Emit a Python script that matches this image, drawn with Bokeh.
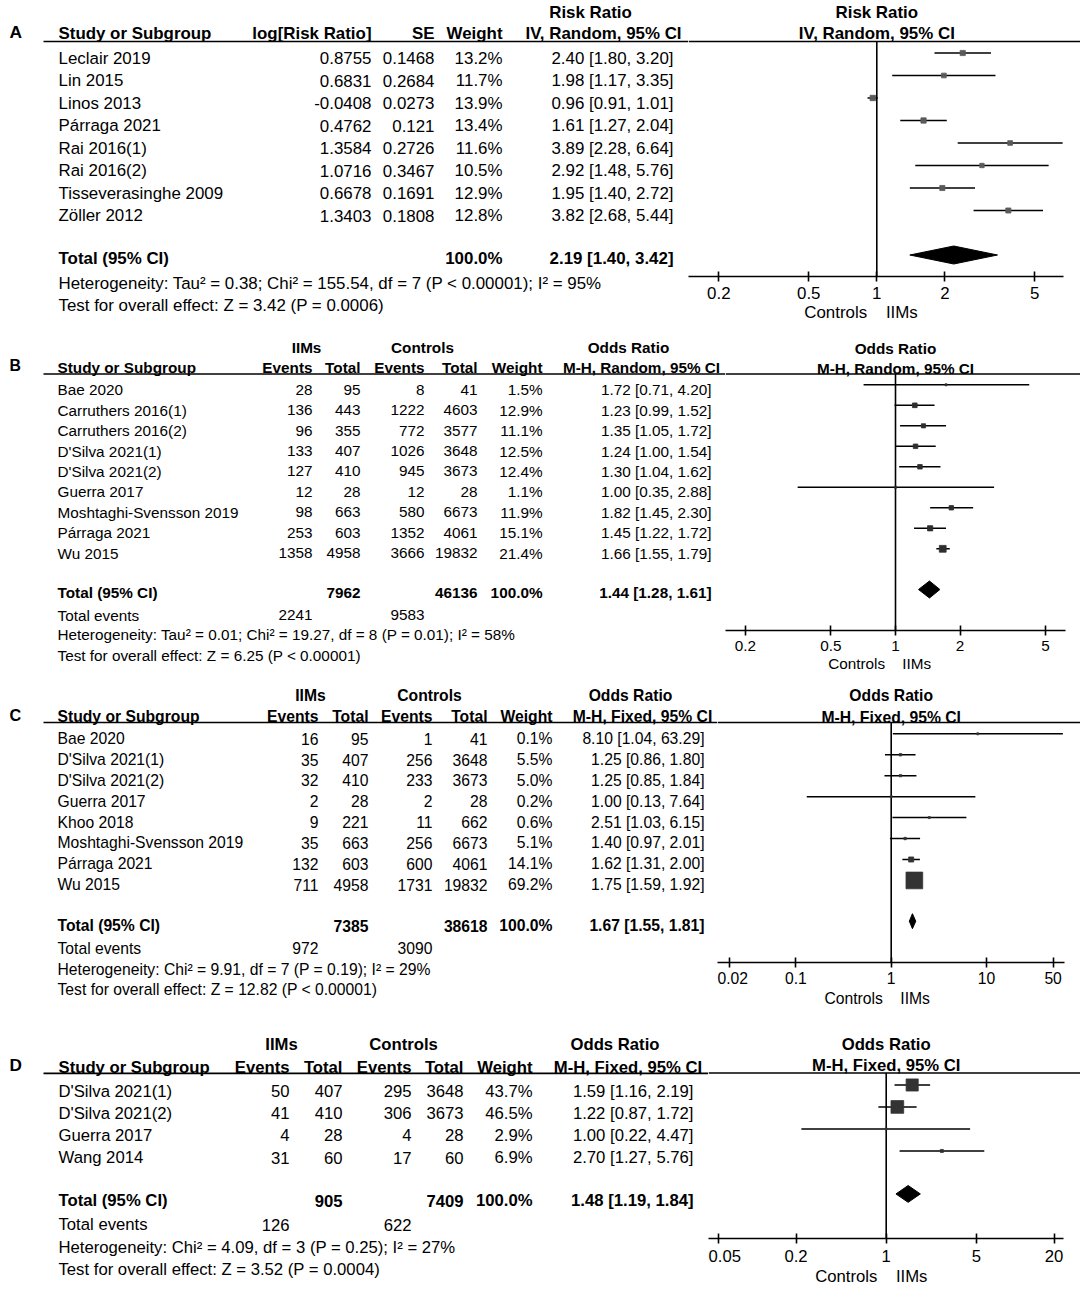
from bokeh.plotting import figure
from bokeh.layouts import row, column
from bokeh.models import Range1d, FixedTicker, Span
from bokeh.core.properties import value
from bokeh.embed import file_html
from bokeh.resources import INLINE

FONT_NAME = "Liberation Sans"
FONT = value(FONT_NAME)
PAGE_LEFT = 0
PAGE_RIGHT = 1080
NBSP = "\u00a0"

# ---------------- Panel A : Risk ratio (IV, Random) ----------------
a_studies = ["Leclair 2019", "Lin 2015", "Linos 2013", "Párraga 2021", "Rai 2016(1)",
             "Rai 2016(2)", "Tisseverasinghe 2009", "Zöller 2012"]
a_logrr = [0.8755, 0.6831, -0.0408, 0.4762, 1.3584, 1.0716, 0.6678, 1.3403]
a_se = [0.1468, 0.2684, 0.0273, 0.121, 0.2726, 0.3467, 0.1691, 0.1808]
a_weight = [13.2, 11.7, 13.9, 13.4, 11.6, 10.5, 12.9, 12.8]
a_est = [2.40, 1.98, 0.96, 1.61, 3.89, 2.92, 1.95, 3.82]
a_lo = [1.80, 1.17, 0.91, 1.27, 2.28, 1.48, 1.40, 2.68]
a_hi = [3.20, 3.35, 1.01, 2.04, 6.64, 5.76, 2.72, 5.44]
a_total = [2.19, 1.40, 3.42]
a_het = "Heterogeneity: Tau² = 0.38; Chi² = 155.54, df = 7 (P < 0.00001); I² = 95%"
a_test = "Test for overall effect: Z = 3.42 (P = 0.0006)"
a_ticks = [0.2, 0.5, 1, 2, 5]
a_tick_labels = ["0.2", "0.5", "1", "2", "5"]

# ---------------- Panel B : Odds ratio (M-H, Random) ----------------
b_studies = ["Bae 2020", "Carruthers 2016(1)", "Carruthers 2016(2)", "D'Silva 2021(1)",
             "D'Silva 2021(2)", "Guerra 2017", "Moshtaghi-Svensson 2019", "Párraga 2021", "Wu 2015"]
b_iims_events = [28, 136, 96, 133, 127, 12, 98, 253, 1358]
b_iims_total = [95, 443, 355, 407, 410, 28, 663, 603, 4958]
b_ctrl_events = [8, 1222, 772, 1026, 945, 12, 580, 1352, 3666]
b_ctrl_total = [41, 4603, 3577, 3648, 3673, 28, 6673, 4061, 19832]
b_weight = [1.5, 12.9, 11.1, 12.5, 12.4, 1.1, 11.9, 15.1, 21.4]
b_est = [1.72, 1.23, 1.35, 1.24, 1.30, 1.00, 1.82, 1.45, 1.66]
b_lo = [0.71, 0.99, 1.05, 1.00, 1.04, 0.35, 1.45, 1.22, 1.55]
b_hi = [4.20, 1.52, 1.72, 1.54, 1.62, 2.88, 2.30, 1.72, 1.79]
b_sums = [7962, 46136]
b_events = [2241, 9583]
b_total = [1.44, 1.28, 1.61]
b_het = "Heterogeneity: Tau² = 0.01; Chi² = 19.27, df = 8 (P = 0.01); I² = 58%"
b_test = "Test for overall effect: Z = 6.25 (P < 0.00001)"
b_ticks = [0.2, 0.5, 1, 2, 5]
b_tick_labels = ["0.2", "0.5", "1", "2", "5"]

# ---------------- Panel C : Odds ratio (M-H, Fixed) ----------------
c_studies = ["Bae 2020", "D'Silva 2021(1)", "D'Silva 2021(2)", "Guerra 2017", "Khoo 2018",
             "Moshtaghi-Svensson 2019", "Párraga 2021", "Wu 2015"]
c_iims_events = [16, 35, 32, 2, 9, 35, 132, 711]
c_iims_total = [95, 407, 410, 28, 221, 663, 603, 4958]
c_ctrl_events = [1, 256, 233, 2, 11, 256, 600, 1731]
c_ctrl_total = [41, 3648, 3673, 28, 662, 6673, 4061, 19832]
c_weight = [0.1, 5.5, 5.0, 0.2, 0.6, 5.1, 14.1, 69.2]
c_est = [8.10, 1.25, 1.25, 1.00, 2.51, 1.40, 1.62, 1.75]
c_lo = [1.04, 0.86, 0.85, 0.13, 1.03, 0.97, 1.31, 1.59]
c_hi = [63.29, 1.80, 1.84, 7.64, 6.15, 2.01, 2.00, 1.92]
c_sums = [7385, 38618]
c_events = [972, 3090]
c_total = [1.67, 1.55, 1.81]
c_het = "Heterogeneity: Chi² = 9.91, df = 7 (P = 0.19); I² = 29%"
c_test = "Test for overall effect: Z = 12.82 (P < 0.00001)"
c_ticks = [0.02, 0.1, 1, 10, 50]
c_tick_labels = ["0.02", "0.1", "1", "10", "50"]

# ---------------- Panel D : Odds ratio (M-H, Fixed) ----------------
d_studies = ["D'Silva 2021(1)", "D'Silva 2021(2)", "Guerra 2017", "Wang 2014"]
d_iims_events = [50, 41, 4, 31]
d_iims_total = [407, 410, 28, 60]
d_ctrl_events = [295, 306, 4, 17]
d_ctrl_total = [3648, 3673, 28, 60]
d_weight = [43.7, 46.5, 2.9, 6.9]
d_est = [1.59, 1.22, 1.00, 2.70]
d_lo = [1.16, 0.87, 0.22, 1.27]
d_hi = [2.19, 1.72, 4.47, 5.76]
d_sums = [905, 7409]
d_events = [126, 622]
d_total = [1.48, 1.19, 1.84]
d_het = "Heterogeneity: Chi² = 4.09, df = 3 (P = 0.25); I² = 27%"
d_test = "Test for overall effect: Z = 3.52 (P = 0.0004)"
d_ticks = [0.05, 0.2, 1, 5, 20]
d_tick_labels = ["0.05", "0.2", "1", "5", "20"]


def fmt_ci(t):
    e, l, h = t
    return f"{e:.2f} [{l:.2f}, {h:.2f}]"


def fmt_w(w):
    return f"{w:.1f}%"


def put(p, xs, ys, texts, fs, align="left", bold=False):
    p.text(x=list(xs), y=list(ys), text=[str(t) for t in texts], text_align=align,
           text_baseline="middle", text_font=FONT, text_font_size=f"{fs}px",
           text_font_style="bold" if bold else "normal", text_color="black")


def table_fig(W, y_top, y_bot):
    p = figure(width=W, height=y_bot - y_top, x_range=Range1d(PAGE_LEFT, PAGE_LEFT + W),
               y_range=Range1d(y_bot, y_top), x_axis_location=None, y_axis_location=None,
               toolbar_location=None, output_backend="svg", min_border=0, frame_align=False)
    p.grid.grid_line_color = None
    p.outline_line_color = None
    p.background_fill_color = "white"
    return p


def build_table(L, studies, cols, ci_strings, total_ci, het, test, events=None):
    W = L["f_left"] - PAGE_LEFT
    p = table_fig(W, L["y_top"], L["y_bot"])
    fs = L["fs"]
    n = len(studies)
    ys = [L["row0"] + L["drow"] * i for i in range(n)]
    # panel letter
    put(p, [9], [L["hdr2"] - 2], [L["letter"]], fs + 0.5, bold=True)
    # group headers
    for lab, cx in L.get("groups", []):
        put(p, [cx], [L["hdr1"]], [lab], fs, align="center", bold=True)
    put(p, [L["ci_h1_x"]], [L["hdr1"]], [L["ci_h1"]], fs, align="center", bold=True)
    put(p, [L["ci_h2_x"]], [L["hdr2"]], [L["ci_h2"]], fs, align="center", bold=True)
    put(p, [L["study_x"]], [L["hdr2"]], ["Study or Subgroup"], fs, bold=True)
    p.segment(x0=[L["line_x0"]], x1=[PAGE_LEFT + W], y0=[L["line_y"]], y1=[L["line_y"]],
              line_color="black", line_width=1.6)
    # rows
    put(p, [L["study_x"]] * n, ys, studies, fs)
    for (hdr, xr, vals, tot) in cols:
        put(p, [xr], [L["hdr2"]], [hdr], fs, align="right", bold=True)
        put(p, [xr] * n, ys, vals, fs, align="right")
        if tot is not None:
            put(p, [xr], [L["total_y"]], [tot], fs, align="right", bold=True)
    put(p, [L["ci_x"]] * n, ys, ci_strings, fs, align="right")
    put(p, [L["study_x"]], [L["total_y"]], ["Total (95% CI)"], fs, bold=True)
    put(p, [L["ci_x"]], [L["total_y"]], [fmt_ci(total_ci)], fs, align="right", bold=True)
    if events is not None:
        put(p, [L["study_x"]], [L["events_y"]], ["Total events"], fs)
        put(p, [L["ev_x"][0], L["ev_x"][1]], [L["events_y"]] * 2, events, fs, align="right")
    put(p, [L["study_x"]], [L["het_y"]], [het], fs)
    put(p, [L["study_x"]], [L["test_y"]], [test], fs)
    return p


def build_forest(L, est, lo, hi, weight, total, ticks, tick_labels):
    left = L["f_left"]
    W = PAGE_RIGHT - left
    one, ppd = L["one_px"], L["ppd"]

    def to_val(px):
        return 10 ** ((px - one) / ppd)

    x_start, x_end = to_val(left), to_val(PAGE_RIGHT)
    y_top, y_axis, y_bot = L["y_top"], L["axis_y"], L["y_bot"]
    p = figure(width=W, height=y_bot - y_top, x_axis_type="log",
               x_range=Range1d(x_start, x_end), y_range=Range1d(y_axis, y_top),
               y_axis_location=None, x_axis_location="below", toolbar_location=None,
               output_backend="svg", min_border=0, min_border_bottom=y_bot - y_axis,
               frame_align=False)
    p.grid.grid_line_color = None
    p.outline_line_color = None
    fs = L["fs"]

    ax = p.xaxis[0]
    ax.ticker = FixedTicker(ticks=ticks)
    ax.major_label_overrides = dict(zip(ticks, tick_labels))
    ax.bounds = (x_start, to_val(L["axis_end"]))
    ax.axis_line_color = "black"
    ax.axis_line_width = 1.6
    ax.major_tick_line_color = "black"
    ax.major_tick_line_width = 1.6
    ax.major_tick_in = 5
    ax.major_tick_out = 5
    ax.minor_tick_line_color = None
    ax.major_label_text_font = FONT_NAME
    ax.major_label_text_font_size = f"{fs}px"
    ax.major_label_text_color = "black"
    ax.major_label_standoff = L["lab_standoff"]
    # "Controls" sits left of the null line, "IIMs" right of it
    ax.axis_label = "Controls" + NBSP * 4 + "IIMs" + NBSP * L["lab_pad"]
    ax.axis_label_text_font = FONT_NAME
    ax.axis_label_text_font_size = f"{fs}px"
    ax.axis_label_text_font_style = "normal"
    ax.axis_label_text_color = "black"
    ax.axis_label_standoff = L["axlab_standoff"]

    # header line and the line of no effect
    p.add_layout(Span(location=L["line_y"], dimension="width", line_color="black", line_width=1.6))
    p.segment(x0=[1], x1=[1], y0=[L["line_y"]], y1=[y_axis], line_color="black", line_width=1.6)
    put(p, [1], [L["f_hdr1"]], [L["ci_h1"]], fs, align="center", bold=True)
    put(p, [1], [L["f_hdr2"]], [L["ci_h2"]], fs, align="center", bold=True)

    n = len(est)
    ys = [L["mrow0"] + L["mdrow"] * i for i in range(n)]
    p.segment(x0=lo, x1=hi, y0=ys, y1=ys, line_color="black", line_width=1.5)
    wmax = max(weight)
    sizes = [max(2.0, L["smax"] * (w / wmax) ** 0.75) for w in weight]
    p.scatter(x=est, y=ys, marker="square", size=sizes, fill_color=L["sq_color"],
              line_color=L["sq_color"], line_width=0.8)
    e, l, h = total
    yd, hd = L["diamond_y"], L["diamond_h"]
    p.patches(xs=[[l, e, h, e]], ys=[[yd, yd - hd, yd, yd + hd]], fill_color="black",
              line_color="black", line_width=1)
    return p


# ---------------- layouts (positions in page pixels) ----------------
LA = dict(letter="A", y_top=0, y_bot=335, fs=16.9, study_x=58, line_x0=43,
          hdr1=11.7, hdr2=33, line_y=41, row0=57.7, drow=22.48, total_y=258.4,
          het_y=282.8, test_y=304.7, ci_x=673, ci_h1="Risk Ratio", ci_h1_x=590,
          ci_h2="IV, Random, 95% CI", ci_h2_x=603,
          f_left=688, one_px=876.3, ppd=226, axis_y=276, axis_end=1063,
          f_hdr1=11.7, f_hdr2=33.3, mrow0=52.5, mdrow=22.5, diamond_y=254.5, diamond_h=9,
          smax=5.4, sq_color="#5a5a5a", lab_standoff=5, axlab_standoff=1, lab_pad=10)
LB = dict(letter="B", y_top=335, y_bot=685, fs=15.3, study_x=57, line_x0=43,
          hdr1=347.2, hdr2=367, line_y=373.5, row0=389.3, drow=20.41, total_y=592.2,
          events_y=614.5, het_y=634.3, test_y=655, ci_x=711, ci_h1="Odds Ratio", ci_h1_x=628,
          ci_h2="M-H, Random, 95% CI", ci_h2_x=641, groups=[("IIMs", 306), ("Controls", 422)],
          ev_x=[312, 424],
          f_left=725, one_px=895, ppd=214.6, axis_y=630, axis_end=1065,
          f_hdr1=347.7, f_hdr2=368, mrow0=384.3, mdrow=20.5, diamond_y=589, diamond_h=8.5,
          smax=6.8, sq_color="#2e2e2e", lab_standoff=5, axlab_standoff=1, lab_pad=11)
LC = dict(letter="C", y_top=685, y_bot=1030, fs=15.7, study_x=57, line_x0=43,
          hdr1=695.3, hdr2=716.2, line_y=722, row0=738.3, drow=20.83, total_y=925,
          events_y=947.6, het_y=969.2, test_y=989.3, ci_x=704, ci_h1="Odds Ratio", ci_h1_x=630,
          ci_h2="M-H, Fixed, 95% CI", ci_h2_x=642, groups=[("IIMs", 310), ("Controls", 429)],
          ev_x=[318, 432],
          f_left=717, one_px=890.7, ppd=95.3, axis_y=962, axis_end=1064,
          f_hdr1=695, f_hdr2=716.7, mrow0=733.3, mdrow=20.95, diamond_y=920.7, diamond_h=7.5,
          smax=16.7, sq_color="#333333", lab_standoff=4, axlab_standoff=3, lab_pad=10)
LD = dict(letter="D", y_top=1030, y_bot=1288, fs=16.7, study_x=58, line_x0=43,
          hdr1=1044.3, hdr2=1066.5, line_y=1072.9, row0=1090.5, drow=22.2, total_y=1200,
          events_y=1224, het_y=1247, test_y=1269.3, ci_x=693, ci_h1="Odds Ratio", ci_h1_x=614.5,
          ci_h2="M-H, Fixed, 95% CI", ci_h2_x=627.5, groups=[("IIMs", 281), ("Controls", 403)],
          ev_x=[289, 411],
          f_left=708, one_px=885.7, ppd=129, axis_y=1240, axis_end=1063,
          f_hdr1=1044, f_hdr2=1065, mrow0=1085, mdrow=22.2, diamond_y=1195, diamond_h=8.5,
          smax=12.7, sq_color="#333333", lab_standoff=6, axlab_standoff=2, lab_pad=10)

# ---------------- Panel A ----------------
tA = build_table(
    LA, a_studies,
    [("log[Risk Ratio]", 371, [str(v) for v in a_logrr], None),
     ("SE", 434, [str(v) for v in a_se], None),
     ("Weight", 502, [fmt_w(w) for w in a_weight], "100.0%")],
    [fmt_ci(t) for t in zip(a_est, a_lo, a_hi)], a_total, a_het, a_test)
fA = build_forest(LA, a_est, a_lo, a_hi, a_weight, a_total, a_ticks, a_tick_labels)


def or_cols(iev, itot, cev, ctot, w, sums, xs):
    return [("Events", xs[0], iev, None),
            ("Total", xs[1], itot, sums[0]),
            ("Events", xs[2], cev, None),
            ("Total", xs[3], ctot, sums[1]),
            ("Weight", xs[4], [fmt_w(v) for v in w], "100.0%")]


tB = build_table(LB, b_studies,
                 or_cols(b_iims_events, b_iims_total, b_ctrl_events, b_ctrl_total, b_weight,
                         b_sums, [312, 360, 424, 477, 542]),
                 [fmt_ci(t) for t in zip(b_est, b_lo, b_hi)], b_total, b_het, b_test, b_events)
fB = build_forest(LB, b_est, b_lo, b_hi, b_weight, b_total, b_ticks, b_tick_labels)

tC = build_table(LC, c_studies,
                 or_cols(c_iims_events, c_iims_total, c_ctrl_events, c_ctrl_total, c_weight,
                         c_sums, [318, 368, 432, 487, 552]),
                 [fmt_ci(t) for t in zip(c_est, c_lo, c_hi)], c_total, c_het, c_test, c_events)
fC = build_forest(LC, c_est, c_lo, c_hi, c_weight, c_total, c_ticks, c_tick_labels)

tD = build_table(LD, d_studies,
                 or_cols(d_iims_events, d_iims_total, d_ctrl_events, d_ctrl_total, d_weight,
                         d_sums, [289, 342, 411, 463, 532]),
                 [fmt_ci(t) for t in zip(d_est, d_lo, d_hi)], d_total, d_het, d_test, d_events)
fD = build_forest(LD, d_est, d_lo, d_hi, d_weight, d_total, d_ticks, d_tick_labels)

layout = column(row(tA, fA), row(tB, fB), row(tC, fC), row(tD, fD))

open("out.html", "w").write(file_html(layout, INLINE))
